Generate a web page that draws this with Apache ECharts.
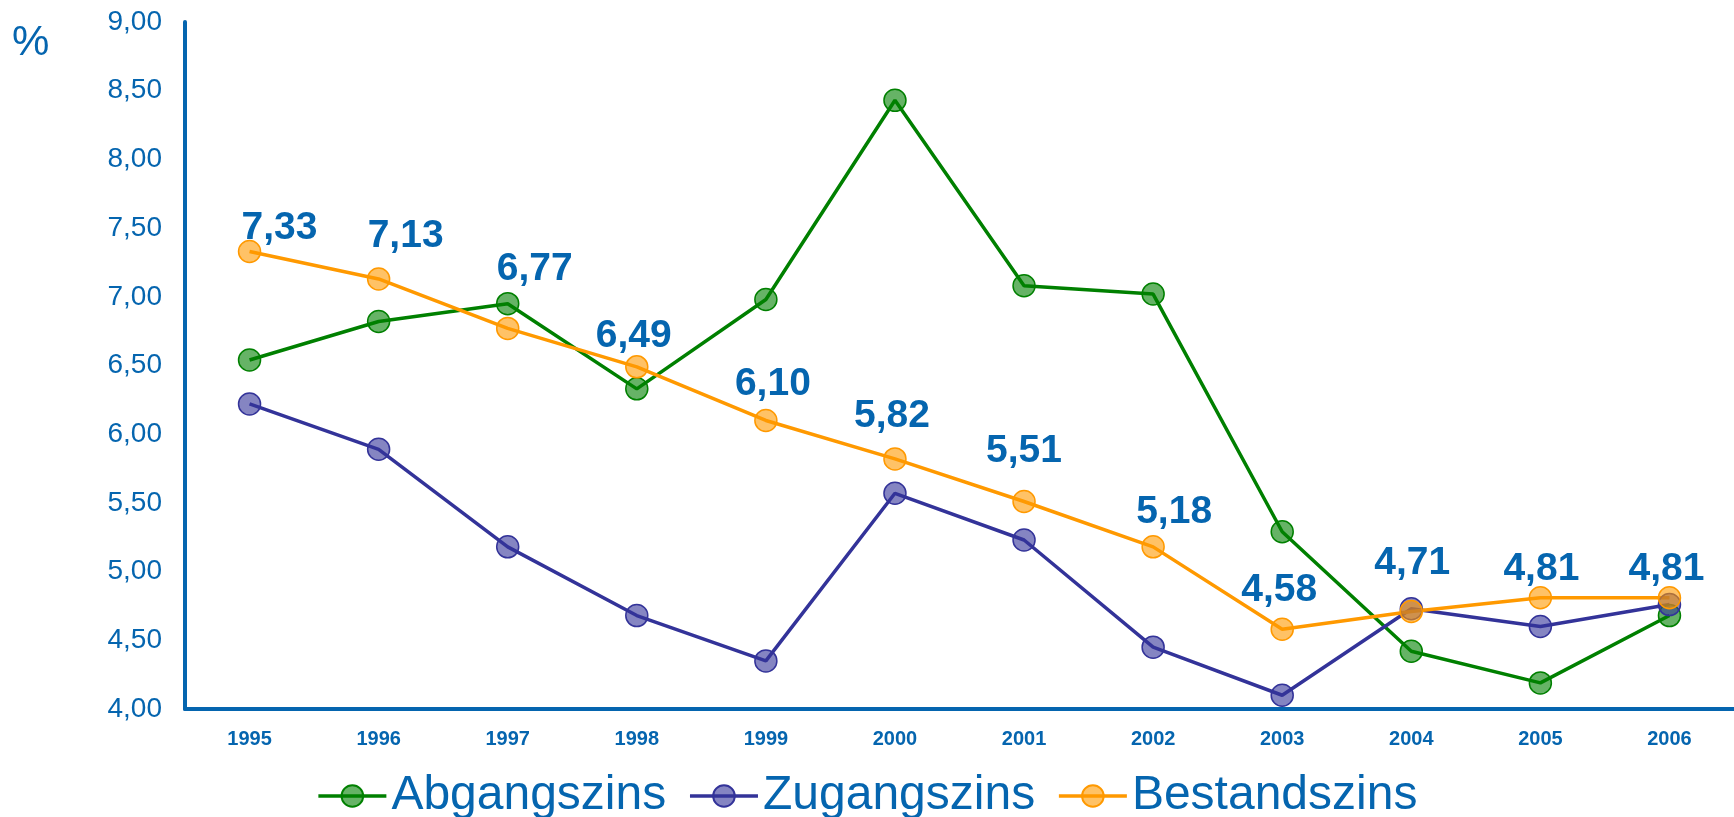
<!DOCTYPE html>
<html>
<head>
<meta charset="utf-8">
<script src="https://cdn.jsdelivr.net/npm/echarts@6/dist/echarts.min.js"></script>
<style>
  html, body { margin: 0; padding: 0; background: #fff; }
  #chart { width: 1734px; height: 817px; }
</style>
</head>
<body>
<div id="chart"></div>
<script>
var years = ['1995', '1996', '1997', '1998', '1999', '2000', '2001', '2002', '2003', '2004', '2005', '2006'];
var abgangszins = [6.54, 6.82, 6.95, 6.33, 6.98, 8.43, 7.08, 7.02, 5.29, 4.42, 4.19, 4.68];
var zugangszins = [6.22, 5.89, 5.18, 4.68, 4.35, 5.57, 5.23, 4.45, 4.10, 4.73, 4.60, 4.76];
var bestandszins = [7.33, 7.13, 6.77, 6.49, 6.10, 5.82, 5.51, 5.18, 4.58, 4.71, 4.81, 4.81];
var yTicks = [4, 4.5, 5, 5.5, 6, 6.5, 7, 7.5, 8, 8.5, 9];

// where each Bestandszins label sits relative to its point
var labelShift = [[30, -23], [27, -43], [27, -59], [-3, -31], [7, -36], [-3, -43],
                  [0, -50], [21, -35], [-3, -39], [1, -48], [1, -28], [-3, -28]];

var blue = '#0565AF';
var font = '"Liberation Sans", Arial, sans-serif';

function comma(v, digits) {
  return Number(v).toFixed(digits).replace('.', ',');
}

function lineSeries(name, data, color, fill) {
  return {
    name: name,
    type: 'line',
    data: data,
    symbol: 'circle',
    symbolSize: 22,
    lineStyle: { color: color, width: 3.5 },
    itemStyle: { color: fill, borderColor: color, borderWidth: 1.5 },
    emphasis: { disabled: true }
  };
}

var chart = echarts.init(document.getElementById('chart'));

var best = lineSeries('Bestandszins', bestandszins.map(function (v, i) {
  return { value: v, label: { offset: labelShift[i] } };
}), '#FF9900', 'rgba(255,153,0,0.6)');
best.label = {
  show: true,
  position: 'inside',
  fontSize: 39,
  fontWeight: 'bold',
  fontFamily: font,
  color: blue,
  formatter: function (p) { return comma(p.value, 2); }
};

var option = {
  backgroundColor: '#fff',
  animation: false,
  graphic: [{
    type: 'text',
    left: 12,
    top: 22,
    style: { text: '%', fontSize: 42, fontFamily: font, fill: blue }
  }],
  grid: { left: 185, right: 0, top: 22, bottom: 108 },
  legend: {
    top: 767,
    left: 'center',
    itemWidth: 68,
    itemHeight: 27,
    itemGap: 22,
    lineStyle: { width: 3.5 },
    textStyle: { fontSize: 48, fontFamily: font, color: blue },
    data: ['Abgangszins', 'Zugangszins', 'Bestandszins']
  },
  xAxis: {
    type: 'category',
    data: years,
    axisLine: { lineStyle: { color: blue, width: 4 } },
    axisTick: { show: false },
    axisLabel: { margin: 20, fontSize: 20, fontWeight: 'bold', fontFamily: font, color: blue }
  },
  yAxis: {
    type: 'value',
    min: yTicks[0],
    max: yTicks[yTicks.length - 1],
    interval: yTicks[1] - yTicks[0],
    axisLine: { show: true, lineStyle: { color: blue, width: 4 } },
    axisTick: { show: false },
    splitLine: { show: false },
    axisLabel: {
      margin: 23, fontSize: 28, fontFamily: font, color: blue,
      formatter: function (v) { return comma(v, 2); }
    }
  },
  series: [
    lineSeries('Abgangszins', abgangszins, '#008000', 'rgba(0,128,0,0.6)'),
    lineSeries('Zugangszins', zugangszins, '#333399', 'rgba(51,51,153,0.6)'),
    best
  ]
};
chart.setOption(option);
</script>
</body>
</html>
